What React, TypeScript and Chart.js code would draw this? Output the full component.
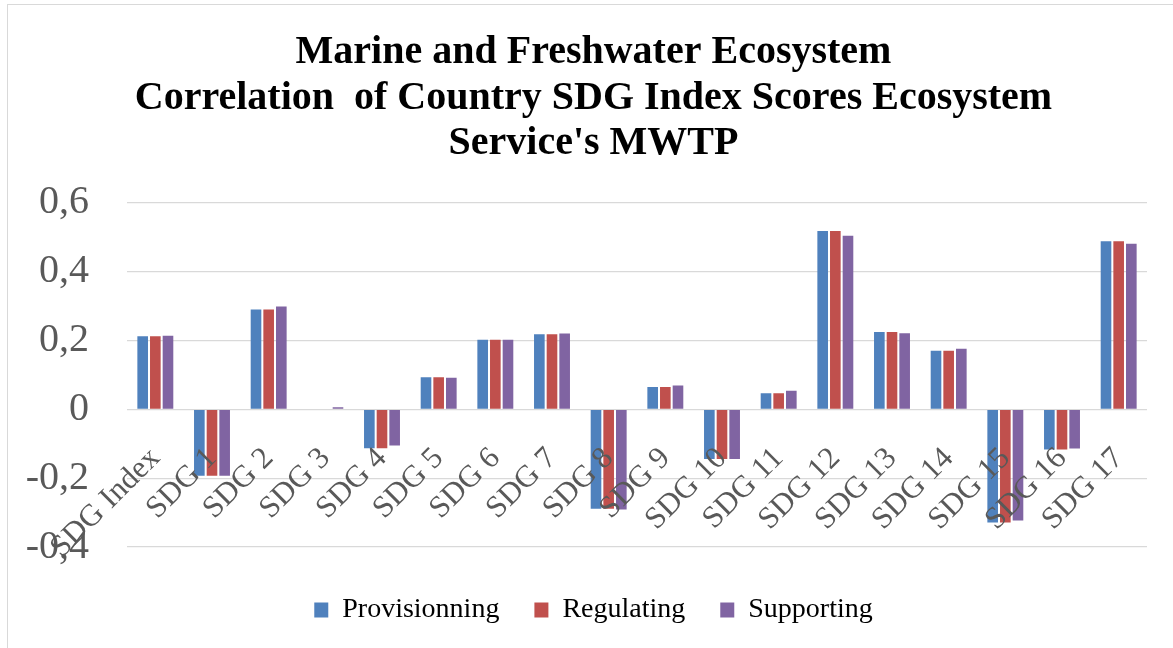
import React, { useEffect, useRef } from "react";
import { Chart, registerables } from "chart.js";

Chart.register(...registerables);

// Categories on the horizontal axis
const categories = [
  "SDG Index", "SDG 1", "SDG 2", "SDG 3", "SDG 4", "SDG 5", "SDG 6", "SDG 7", "SDG 8",
  "SDG 9", "SDG 10", "SDG 11", "SDG 12", "SDG 13", "SDG 14", "SDG 15", "SDG 16", "SDG 17",
];

// Correlation values per ecosystem service
const provisionning = [
  0.212, -0.193, 0.29, 0.0, -0.113, 0.093, 0.202, 0.218, -0.289,
  0.065, -0.144, 0.047, 0.518, 0.225, 0.17, -0.329, -0.117, 0.488,
];
const regulating = [
  0.212, -0.193, 0.29, 0.0, -0.113, 0.093, 0.202, 0.218, -0.289,
  0.065, -0.144, 0.047, 0.518, 0.225, 0.17, -0.329, -0.117, 0.488,
];
const supporting = [
  0.214, -0.193, 0.299, 0.006, -0.105, 0.092, 0.202, 0.22, -0.291,
  0.069, -0.144, 0.054, 0.504, 0.221, 0.176, -0.323, -0.114, 0.481,
];

const seriesNames = ["Provisionning", "Regulating", "Supporting"];

// Value axis ticks (comma decimal separator)
const yTickValues = [-0.4, -0.2, 0, 0.2, 0.4, 0.6];
const yTickLabels = ["-0,4", "-0,2", "0", "0,2", "0,4", "0,6"];

const titleLines = [
  "Marine and Freshwater Ecosystem",
  "Correlation  of Country SDG Index Scores Ecosystem",
  "Service's MWTP",
];

const SERIF = "'Liberation Serif', 'Times New Roman', serif";

export default function App() {
  const canvasRef = useRef<HTMLCanvasElement | null>(null);

  useEffect(() => {
    const canvas = canvasRef.current;
    if (!canvas) return;
    const chart = new Chart(canvas, {
      type: "bar",
      data: {
        labels: categories,
        datasets: [
          { label: seriesNames[0], data: provisionning, backgroundColor: "#4F81BD" },
          { label: seriesNames[1], data: regulating, backgroundColor: "#C0504D" },
          { label: seriesNames[2], data: supporting, backgroundColor: "#8064A2" },
        ],
      },
      options: {
        responsive: false,
        animation: false,
        devicePixelRatio: 1,
        datasets: {
          bar: { categoryPercentage: 0.67, barPercentage: 0.84 },
        },
        layout: { padding: { top: 16, left: 26, right: 12, bottom: 14 } },
        plugins: {
          tooltip: { enabled: false },
          title: {
            display: true,
            text: titleLines,
            color: "#000000",
            font: { family: SERIF, size: 40, weight: "bold", lineHeight: 1.14 },
            padding: { top: 14, bottom: 36 },
          },
          legend: {
            position: "bottom",
            // empty spacer title keeps the legend row clear of the plot
            title: { display: true, text: "", font: { size: 2, lineHeight: 1 }, padding: 6 },
            labels: {
              color: "#000000",
              font: { family: SERIF, size: 28 },
              boxWidth: 14,
              boxHeight: 15,
              padding: 35,
            },
          },
        },
        scales: {
          x: {
            position: { y: 0 },
            grid: { display: false },
            border: { display: false },
            ticks: {
              z: 1,
              autoSkip: false,
              minRotation: 45,
              maxRotation: 45,
              padding: 23,
              color: "#595959",
              font: { family: SERIF, size: 31 },
            },
          },
          y: {
            min: yTickValues[0],
            max: yTickValues[yTickValues.length - 1],
            afterFit: (scale: any) => {
              scale.width = 101;
            },
            afterBuildTicks: (scale: any) => {
              scale.ticks = yTickValues.map((v) => ({ value: v }));
            },
            grid: { color: "#d9d9d9", lineWidth: 1.3, drawTicks: false },
            border: { display: false },
            ticks: {
              padding: 38,
              color: "#595959",
              font: { family: SERIF, size: 40 },
              callback: (value: any) => {
                const i = yTickValues.findIndex((v) => Math.abs(v - Number(value)) < 1e-6);
                return i >= 0 ? yTickLabels[i] : "";
              },
            },
          },
          // blank right-hand margin inside the frame
          yRight: {
            position: "right",
            display: true,
            grid: { display: false },
            border: { display: false },
            ticks: { display: false },
            afterFit: (scale: any) => {
              scale.width = 14;
            },
          },
        },
      },
    });
    return () => chart.destroy();
  }, []);

  return (
    <div
      style={{
        position: "fixed",
        left: 0,
        top: 0,
        width: 1173,
        height: 648,
        overflow: "hidden",
        background: "#ffffff",
      }}
    >
      <div
        style={{
          position: "absolute",
          left: 7,
          top: 4,
          width: 1200,
          height: 700,
          border: "1px solid #d9d9d9",
          boxSizing: "border-box",
        }}
      />
      <canvas
        ref={canvasRef}
        width={1173}
        height={648}
        style={{ position: "absolute", left: 0, top: 0 }}
      />
    </div>
  );
}
